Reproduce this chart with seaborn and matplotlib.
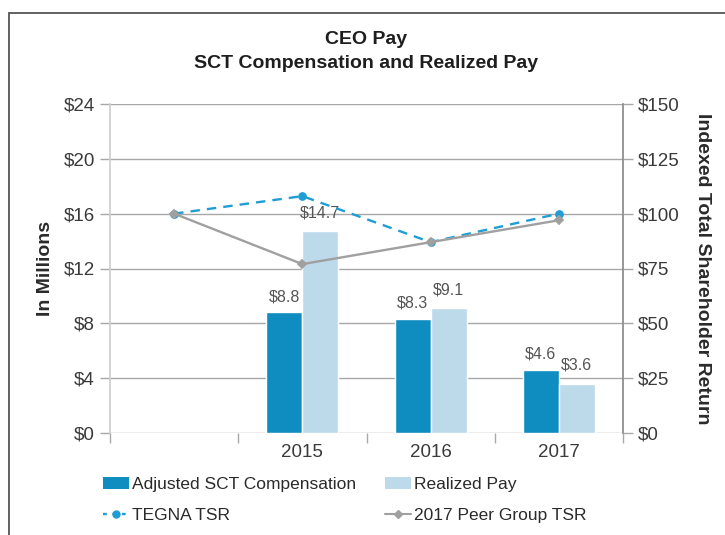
import matplotlib
matplotlib.use("Agg")
import matplotlib.pyplot as plt
import numpy as np
import pandas as pd
import seaborn as sns
from matplotlib.lines import Line2D
from matplotlib.patches import Patch, Rectangle
from matplotlib.ticker import FuncFormatter, MultipleLocator

# categories on the shared x axis (first slot is the TSR base point, no bars)
categories = ["", "2015", "2016", "2017"]
bar_years = ["2015", "2016", "2017"]
adjusted_sct = [8.8, 8.3, 4.6]
realized_pay = [14.7, 9.1, 3.6]
tegna_tsr = [100, 108, 87, 100]
peer_tsr = [100, 77, 87, 97]
bar_series = ["Adjusted SCT Compensation", "Realized Pay"]
line_series = ["TEGNA TSR", "2017 Peer Group TSR"]

DARK = "#0F8DC0"
LIGHT = "#BDDAEB"
LINE_BLUE = "#1F9DD4"
LINE_GRAY = "#A0A0A0"
GRID = "#A8A8A8"
TXT = "#3A3A3A"

sns.set_theme(style="white")
plt.rcParams["font.family"] = ["Liberation Sans", "DejaVu Sans"]

bars = pd.DataFrame({
    "year": bar_years * 2,
    "value": adjusted_sct + realized_pay,
    "series": [bar_series[0]] * 3 + [bar_series[1]] * 3,
})
lines = pd.DataFrame({
    "year": categories * 2,
    "tsr": tegna_tsr + peer_tsr,
    "series": [line_series[0]] * 4 + [line_series[1]] * 4,
})

fig = plt.figure(figsize=(7.25, 5.35), dpi=100)
ax = fig.add_axes([110 / 725, 1 - 433 / 535, 513 / 725, 329 / 535])
ax2 = ax.twinx()

sns.barplot(data=bars, x="year", y="value", hue="series", order=categories,
            hue_order=bar_series, palette=[DARK, LIGHT], width=0.56, gap=0,
            saturation=1, legend=False, ax=ax)

sns.pointplot(data=lines, x="year", y="tsr", hue="series", order=categories,
              hue_order=line_series, palette=[LINE_BLUE, LINE_GRAY],
              markers=["o", "D"], linestyles=["--", "-"], errorbar=None,
              dodge=False, legend=False, markersize=5, linewidth=1.7, ax=ax2)
for ln in ax2.lines:
    if ln.get_linestyle() == "--":
        ln.set_dashes([4, 3])
    else:
        ln.set_markersize(4.5)

for cont, pad in zip(ax.containers, [6, 8]):
    ax.bar_label(cont, labels=[f"${v:.1f}" for v in cont.datavalues],
                 padding=pad, fontsize=11.5, color="#555555")

ax.set_ylim(0, 24)
ax2.set_ylim(0, 150)
ax.set_xlim(-0.5, 3.5)
ax.yaxis.set_major_locator(MultipleLocator(4))
ax2.yaxis.set_major_locator(MultipleLocator(25))
ax.yaxis.set_major_formatter(FuncFormatter(lambda v, p: f"${v:.0f}"))
ax2.yaxis.set_major_formatter(FuncFormatter(lambda v, p: f"${v:.0f}"))

ax.set_xticks(range(len(categories)))
ax.set_xticklabels(categories)
ax.set_xticks(np.arange(-0.5, len(categories), 1), minor=True)
ax.tick_params(axis="x", which="major", length=0, pad=8, labelsize=13.5, labelcolor=TXT)
ax.tick_params(axis="x", which="minor", length=7, width=1, color=GRID, bottom=True)
ax.tick_params(axis="y", length=7, width=1, color=GRID, labelsize=13.5, labelcolor=TXT, left=True, pad=4)
ax2.tick_params(axis="y", length=7, width=1, color=GRID, labelsize=13.5, labelcolor=TXT, right=True, pad=4)

ax.grid(axis="y", color=GRID, linewidth=1)
ax.set_axisbelow(True)
for a in (ax, ax2):
    for side in ("top", "bottom", "left", "right"):
        a.spines[side].set_visible(False)
ax.spines["left"].set_visible(True)
ax.spines["left"].set_color("#CFCFCF")
ax2.spines["right"].set_visible(True)
ax2.spines["right"].set_color("#8A8A8A")

ax.set_xlabel("")
ax.set_ylabel("In Millions", fontsize=14, fontweight="bold", color="#2A2A2A", labelpad=7)
ax2.set_ylabel("Indexed Total Shareholder Return", fontsize=14, fontweight="bold",
               color="#2A2A2A", rotation=270, labelpad=22)

fig.text(366 / 725, 1 - 40 / 535, "CEO Pay", ha="center", va="center",
         fontsize=14, fontweight="bold", color="#1E1E1E")
fig.text(366 / 725, 1 - 64 / 535, "SCT Compensation and Realized Pay", ha="center",
         va="center", fontsize=14, fontweight="bold", color="#1E1E1E")

handles = [
    Patch(facecolor=DARK, edgecolor="none"),
    Line2D([], [], color=LINE_BLUE, linestyle="--", dashes=[1.6, 2.4], marker="o", markersize=5, lw=1.7),
    Patch(facecolor=LIGHT, edgecolor="none"),
    Line2D([], [], color=LINE_GRAY, marker="D", markersize=4, lw=1.5),
]
labels = [bar_series[0], line_series[0], bar_series[1], line_series[1]]
fig.legend(handles, labels, loc="upper left", bbox_to_anchor=(87 / 725, 1 - 461 / 535),
           ncol=2, frameon=False, fontsize=12.5, handlelength=1.5, handleheight=0.7,
           handletextpad=0.2, columnspacing=1.65, labelspacing=0.95, labelcolor="#2A2A2A")

fig.patches.append(Rectangle((9 / 725, -0.1), 1.2, 0.1 + (535 - 13) / 535,
                             transform=fig.transFigure, fill=False,
                             edgecolor="#555555", linewidth=1.3))

fig.savefig("out.png", dpi=100)
